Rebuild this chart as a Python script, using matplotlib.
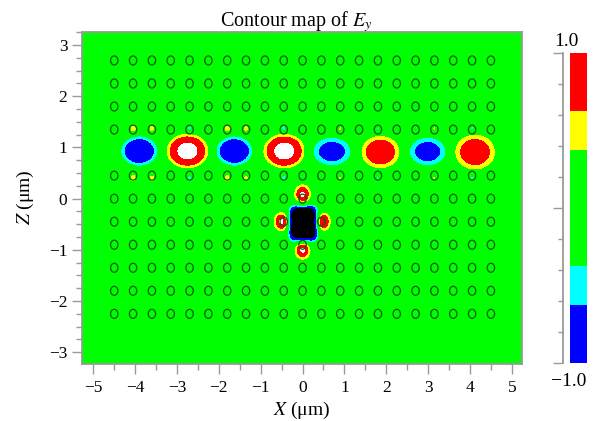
import numpy as np
import matplotlib
matplotlib.use("Agg")
import matplotlib.pyplot as plt
from matplotlib.patches import Circle
from matplotlib.colors import ListedColormap, BoundaryNorm
from matplotlib.cm import ScalarMappable
from matplotlib.ticker import MultipleLocator

plt.rcParams['font.family'] = ['Liberation Serif', 'DejaVu Serif']
plt.rcParams['mathtext.fontset'] = 'stix'

# ---- data ----
levels = [-50.0, -1.0, -0.625, -0.375, 0.375, 0.625, 1.0, 50.0]
level_colors = ['#000000', '#0000ff', '#00ffff', '#00ff00', '#ffff00', '#ff0000', '#ffffff']
cbar_levels = [-1.0, -0.625, -0.375, 0.375, 0.625, 1.0]
cbar_colors = ['#0000ff', '#00ffff', '#00ff00', '#ffff00', '#ff0000']

# photonic-crystal holes (square lattice); row Z=0.9 is the line defect
hole_cols = [-4.5, -4.05, -3.6, -3.15, -2.7, -2.25, -1.8, -1.35, -0.9, -0.45, 0.0,
             0.45, 0.9, 1.35, 1.8, 2.25, 2.7, 3.15, 3.6, 4.05, 4.5]
hole_rows = [2.7, 2.25, 1.8, 1.35, 0.45, 0.0, -0.45, -0.9, -1.35, -1.8, -2.25]
missing_hole = (0.0, -0.45)
hole_radius = 0.088

# waveguide mode lobes (centre X, centre Z, amplitude, size X, size Z)
wg_x = [-3.9, -2.75, -1.63, -0.44, 0.70, 1.86, 2.99, 4.12]
wg_z = [0.93, 0.93, 0.93, 0.93, 0.92, 0.91, 0.92, 0.91]
wg_amp = [-0.96, 1.05, -0.95, 1.05, -0.75, 0.81, -0.75, 0.78]
wg_sx = [0.45, 0.485, 0.45, 0.48, 0.5, 0.47, 0.48, 0.5]
wg_sz = [0.30, 0.325, 0.30, 0.325, 0.305, 0.325, 0.305, 0.355]

# cavity mode (centre X, centre Z, amplitude, size)
cav_x, cav_z, cav_amp, cav_s = 0.02, -0.485, -2.0, 0.35

# bright lobes round the cavity
lobe_x = [0.0, 0.0, -0.5, 0.48]
lobe_z = [0.08, -1.0, -0.45, -0.45]
lobe_amp = [1.07, 1.07, 1.07, 1.07]
lobe_sig = [0.13, 0.125, 0.125, 0.125]

# small spots inside the holes next to the waveguide
dot_x = [-4.05, -3.6, -2.7, -1.8, -1.35, -0.45, 0.9, 1.8, 3.15, 4.05,
         -4.05, -3.6, -2.7, -1.8, -1.35, -0.45, 0.0, 0.9, 1.8, 3.15, 4.05]
dot_z = [1.37, 1.37, 1.37, 1.37, 1.37, 1.37, 1.37, 1.37, 1.37, 1.37,
         0.40, 0.40, 0.40, 0.40, 0.40, 0.40, 0.43, 0.40, 0.40, 0.40, 0.40]
dot_amp = [0.62, 0.55, -0.58, 0.6, 0.5, -0.6, 0.42, -0.5, 0.42, -0.55,
           0.62, 0.55, -0.6, 0.6, 0.5, -0.6, -0.5, 0.42, -0.5, 0.42, -0.55]
dot_sig = [0.05, 0.045, 0.055, 0.05, 0.045, 0.055, 0.03, 0.045, 0.03, 0.045,
           0.05, 0.045, 0.055, 0.05, 0.045, 0.055, 0.045, 0.03, 0.045, 0.03, 0.045]

# small artifact at the waveguide end
edge_x, edge_z, edge_amp = 4.96, 0.9, -0.55

# ---- build the field ----
xs = np.linspace(-5.27, 5.25, 1053)
zs = np.linspace(-3.23, 3.25, 649)
X, Z = np.meshgrid(xs, zs)
E = np.zeros_like(X)
for x0, z0, a, sx, sz in zip(wg_x, wg_z, wg_amp, wg_sx, wg_sz):
    r2 = ((X - x0) / sx) ** 2 + ((Z - z0) / sz) ** 2
    E += a * np.exp(-r2 ** 2)
E += cav_amp * np.exp(-(np.abs(X - cav_x) / cav_s) ** 4 - (np.abs(Z - cav_z) / cav_s) ** 4)
for x0, z0, a, s in zip(lobe_x, lobe_z, lobe_amp, lobe_sig):
    E += a * np.exp(-((X - x0) ** 2 + (Z - z0) ** 2) / (2 * s ** 2))
for x0, z0, a, s in zip(dot_x, dot_z, dot_amp, dot_sig):
    E += a * np.exp(-((X - x0) ** 2 + (Z - z0) ** 2) / (2 * s ** 2))
E += edge_amp * np.exp(-((X - edge_x) / 0.012) ** 2 / 2 - ((Z - edge_z) / 0.07) ** 2 / 2)

# ---- figure ----
W, H = 595, 421
fig = plt.figure(figsize=(W / 100, H / 100), dpi=100)
ax = fig.add_axes([82 / W, (H - 364) / H, 440.3 / W, 331.7 / H])
ax.contourf(X, Z, E, levels=levels, colors=level_colors)

for zr in hole_rows:
    for xc in hole_cols:
        if (xc, zr) == missing_hole:
            continue
        ax.add_patch(Circle((xc, zr), hole_radius, fill=False,
                            edgecolor='#0b5a0b', linewidth=0.9))

ax.set_xlim(-5.27, 5.25)
ax.set_ylim(-3.23, 3.25)
ax.set_xticks([-5, -4, -3, -2, -1, 0, 1, 2, 3, 4, 5])
ax.set_yticks([-3, -2, -1, 0, 1, 2, 3])
ax.xaxis.set_minor_locator(MultipleLocator(0.5))
ax.yaxis.set_minor_locator(MultipleLocator(0.25))
gray = '#9a9a9a'
for s in ax.spines.values():
    s.set_color(gray)
    s.set_linewidth(1.3)
ax.tick_params(which='major', length=7.5, width=1.0, color=gray, labelsize=12.5, pad=3)
ax.tick_params(which='minor', length=4, width=1.0, color=gray)
ax.tick_params(axis='x', which='major', pad=4)

fig.text(296.3 / W, 1 - 26.7 / H, 'Contour map of $E_y$', ha='center', va='baseline', fontsize=14.5)
fig.text(301.7 / W, 1 - 415 / H, '$X$ (μm)', ha='center', va='baseline', fontsize=14)
fig.text(25 / W, 1 - 197.5 / H, '$Z$ (μm)', ha='center', va='center', rotation=90, fontsize=14)

# colour bar
cax = fig.add_axes([570 / W, (H - 363.3) / H, 16.7 / W, 310 / H])
cmap = ListedColormap(cbar_colors)
norm = BoundaryNorm(cbar_levels, cmap.N)
cb = fig.colorbar(ScalarMappable(norm=norm, cmap=cmap), cax=cax, spacing='proportional')
cb.outline.set_visible(False)
cb.set_ticks([])
cb.minorticks_off()
cax.tick_params(which='both', length=0)

# ruler next to the colour bar
rax = fig.add_axes([562.7 / W, (H - 363.3) / H, 0.0001, 310 / H])
rax.set_ylim(-1, 1)
rax.set_xticks([])
for k in ['top', 'right', 'bottom']:
    rax.spines[k].set_visible(False)
rax.spines['left'].set_color(gray)
rax.spines['left'].set_linewidth(1.3)
rax.set_yticks([-1, 0, 1])
rax.set_yticklabels([])
rax.yaxis.set_minor_locator(MultipleLocator(0.2))
rax.tick_params(which='major', length=7.5, width=1.0, color=gray)
rax.tick_params(which='minor', length=3.5, width=1.0, color=gray)
rax.patch.set_visible(False)

fig.text(566.7 / W, 1 - 41.7 / H, '1.0', ha='center', va='center', fontsize=14)
fig.text(569 / W, 1 - 382 / H, '\u22121.0', ha='center', va='center', fontsize=14)

fig.savefig('out.png', dpi=100)
